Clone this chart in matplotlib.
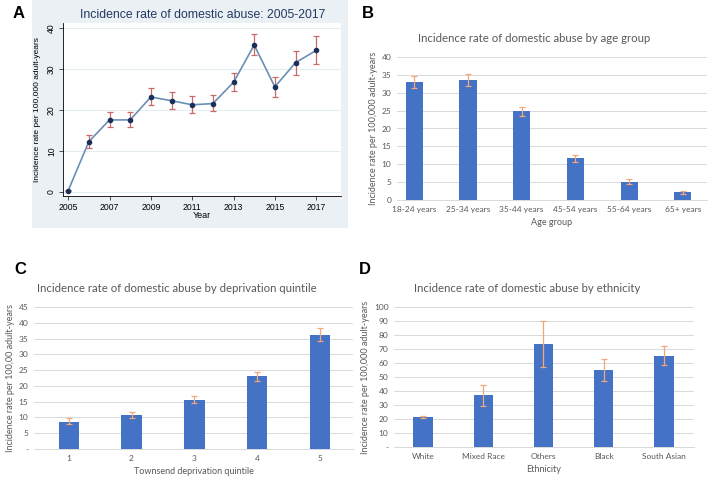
import numpy as np
import matplotlib
matplotlib.use("Agg")
import matplotlib.pyplot as plt
from matplotlib.patches import Rectangle

# panel A - yearly incidence
years = [2005, 2006, 2007, 2008, 2009, 2010, 2011, 2012, 2013, 2014, 2015, 2016, 2017]
year_rate = [0.3, 12.3, 17.6, 17.6, 23.2, 22.3, 21.3, 21.6, 26.8, 35.9, 25.7, 31.6, 34.6]
year_lo = [0.2, 10.7, 15.8, 15.8, 21.2, 20.3, 19.4, 19.8, 24.7, 33.4, 23.2, 28.7, 31.2]
year_hi = [0.4, 14.0, 19.6, 19.6, 25.3, 24.4, 23.4, 23.7, 29.1, 38.6, 28.2, 34.4, 38.0]

# panel B - age group
age_groups = ["18-24 years", "25-34 years", "35-44 years", "45-54 years", "55-64 years", "65+ years"]
age_rate = [33.0, 33.7, 24.9, 11.7, 5.1, 2.1]
age_lo = [31.2, 32.0, 23.6, 10.7, 4.4, 1.7]
age_hi = [34.8, 35.3, 26.1, 12.7, 5.9, 2.6]

# panel C - deprivation quintile
quintiles = ["1", "2", "3", "4", "5"]
quint_rate = [8.6, 10.8, 15.6, 23.0, 36.1]
quint_lo = [8.0, 9.8, 14.5, 21.7, 34.3]
quint_hi = [9.8, 11.7, 16.8, 24.3, 38.3]

# panel D - ethnicity
ethnicities = ["White", "Mixed Race", "Others", "Black", "South Asian"]
eth_rate = [21.4, 36.9, 73.3, 54.8, 65.0]
eth_lo = [20.6, 29.0, 57.4, 47.4, 58.6]
eth_hi = [22.1, 44.2, 89.7, 62.9, 71.9]

W, H = 708, 483
fig = plt.figure(figsize=(W / 100, H / 100), dpi=100)

def ax_px(left, top, right, bottom):
    return fig.add_axes([left / W, 1 - bottom / H, (right - left) / W, (bottom - top) / H])

excel_font = "Lato"
stata_font = "Liberation Sans"
bar_col = "#4472C4"
err_col = "#F4A77A"
txt_col = "#595959"

# ---- A (stata style) ----
fig.patches.append(Rectangle((32 / W, 1 - 228 / H), 316 / W, 228 / H,
                             transform=fig.transFigure, facecolor="#eaf0f3", edgecolor="none", zorder=-10))
ax = ax_px(63, 23, 341, 196)
ax.set_facecolor("white")
lo = np.array(year_rate) - np.array(year_lo)
hi = np.array(year_hi) - np.array(year_rate)
ax.errorbar(years, year_rate, yerr=[lo, hi], fmt="none", ecolor="#c86a6a", elinewidth=0.9, capsize=2.5, capthick=0.9, zorder=2)
ax.plot(years, year_rate, color="#6a8fb5", linewidth=1.2, zorder=3)
ax.plot(years, year_rate, "o", color="#1b2f5a", markersize=3, zorder=4)
ax.set_xlim(2004.75, 2018.2)
ax.set_ylim(-1.0, 41.3)
ax.set_xticks(range(2005, 2018, 2))
ax.set_yticks(range(0, 41, 10))
ax.tick_params(axis="both", labelsize=6.2, length=3, width=0.6, color="#333333", pad=2)
for lbl in ax.get_xticklabels() + ax.get_yticklabels():
    lbl.set_fontfamily(stata_font)
for lbl in ax.get_yticklabels():
    lbl.set_rotation(90)
    lbl.set_va("center")
ax.grid(axis="y", color="#e6edf1", linewidth=0.8)
ax.set_axisbelow(True)
for s in ["top", "right"]:
    ax.spines[s].set_visible(False)
ax.spines["left"].set_linewidth(0.6)
ax.spines["bottom"].set_linewidth(0.6)
ax.set_xlabel("Year", fontsize=6.5, labelpad=-1, fontfamily=stata_font)
ax.set_ylabel("Incidence rate per 100,000 adult-years", fontsize=6, labelpad=4, fontfamily=stata_font)
fig.text(203 / W, 1 - 15 / H, "Incidence rate of domestic abuse: 2005-2017", ha="center", va="center",
         fontsize=8.8, color="#233a66", fontfamily=stata_font)


def excel_bars(ax, cats, vals, los, his, ymax, step, xlabel, ylabel, zero_dash=False):
    x = np.arange(len(cats))
    ax.bar(x, vals, width=0.32, color=bar_col, zorder=2)
    ax.errorbar(x, vals, yerr=[np.array(vals) - np.array(los), np.array(his) - np.array(vals)],
                fmt="none", ecolor=err_col, elinewidth=0.9, capsize=2, capthick=0.9, zorder=3)
    ax.set_ylim(0, ymax)
    ticks = np.arange(0, ymax + 0.1, step)
    ax.set_yticks(ticks)
    labels = [str(int(t)) for t in ticks]
    if zero_dash:
        labels[0] = "-"
    ax.set_yticklabels(labels)
    ax.set_xticks(x)
    ax.set_xticklabels(cats)
    ax.tick_params(axis="both", labelsize=6, length=0, colors=txt_col, pad=4)
    for t in ax.get_xticklabels() + ax.get_yticklabels():
        t.set_fontfamily(excel_font)
    ax.grid(axis="y", color="#d9d9d9", linewidth=0.7)
    ax.set_axisbelow(True)
    for s in ["top", "right", "left"]:
        ax.spines[s].set_visible(False)
    ax.spines["bottom"].set_color("#d9d9d9")
    ax.spines["bottom"].set_linewidth(0.7)
    ax.set_xlabel(xlabel, fontsize=6.5, color=txt_col, fontfamily=excel_font, labelpad=4)
    ax.set_ylabel(ylabel, fontsize=6.5, color=txt_col, fontfamily=excel_font, labelpad=3)
    return ax


# ---- B ----
ax = ax_px(397, 57, 707, 200)
excel_bars(ax, age_groups, age_rate, age_lo, age_hi, 40, 5, "Age group",
           "Incidence rate per 100,000 adult-years")
ax.set_xlim(-0.32, 5.45)
fig.text(534 / W, 1 - 39 / H, "Incidence rate of domestic abuse by age group", ha="center", va="center",
         fontsize=8.2, color=txt_col, fontfamily=excel_font)

# ---- C ----
ax = ax_px(34, 307, 353, 449)
excel_bars(ax, quintiles, quint_rate, quint_lo, quint_hi, 45, 5, "Townsend deprivation quintile",
           "Incidence rate per 100,00 adult-years", zero_dash=True)
ax.set_xlim(-0.55, 4.52)
fig.text(37 / W, 1 - 289 / H, "Incidence rate of domestic abuse by deprivation quintile", ha="left", va="center",
         fontsize=8.2, color=txt_col, fontfamily=excel_font)

# ---- D ----
ax = ax_px(394, 307, 694, 447)
excel_bars(ax, ethnicities, eth_rate, eth_lo, eth_hi, 100, 10, "Ethnicity",
           "Incidence rate per 100,000 adult-years", zero_dash=True)
ax.set_xlim(-0.48, 4.5)
fig.text(414 / W, 1 - 289 / H, "Incidence rate of domestic abuse by ethnicity", ha="left", va="center",
         fontsize=8.2, color=txt_col, fontfamily=excel_font)

# panel letters
for lab, px, py in [("A", 13, 13), ("B", 362, 13), ("C", 14, 270), ("D", 359, 270)]:
    fig.text(px / W, 1 - py / H, lab, fontsize=12, fontweight="bold", ha="left", va="center",
             fontfamily="Liberation Sans")

fig.savefig("out.png", dpi=100)
